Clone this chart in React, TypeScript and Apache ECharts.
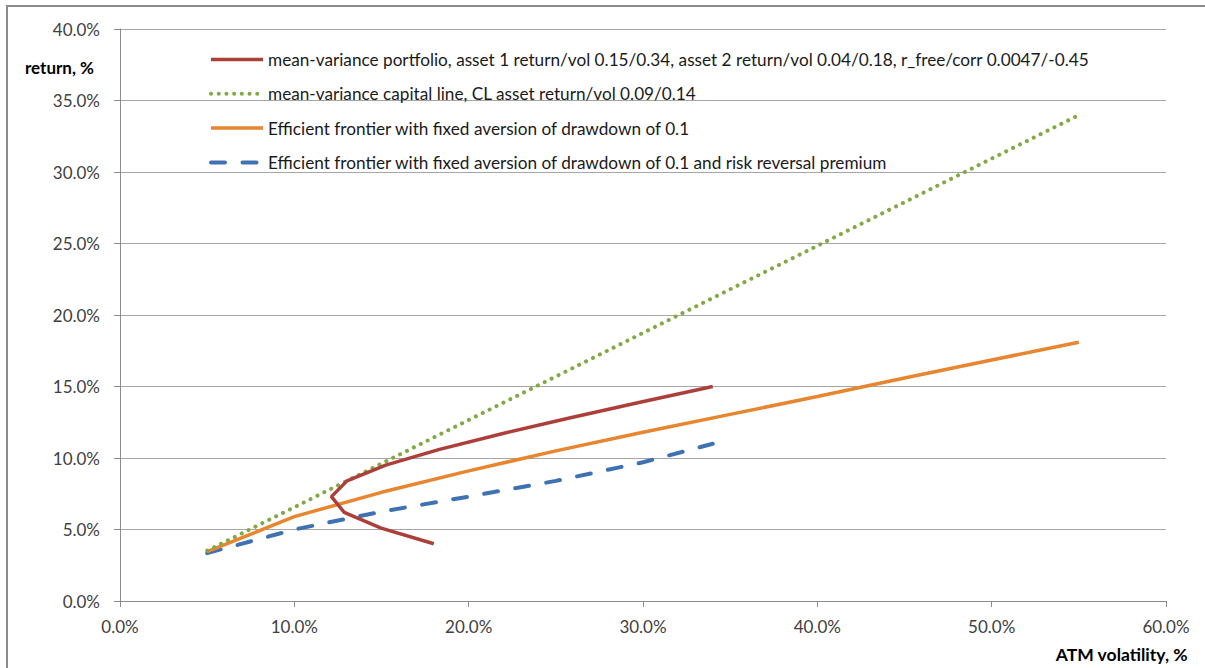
import React, { useEffect, useRef } from "react";
import * as echarts from "echarts";

// Mean-variance portfolio (vol %, return %)
const redVol = [18.0, 14.98, 12.86, 12.13, 13.02, 15.24, 18.33, 21.91, 25.78, 29.83, 34.0];
const redRet = [4.0, 5.1, 6.2, 7.3, 8.4, 9.5, 10.6, 11.7, 12.8, 13.9, 15.0];

// Capital line
const greenVol = [5, 10, 15, 20, 25, 30, 35, 40, 45, 50, 55];
const greenRet = [3.52, 6.56, 9.61, 12.66, 15.7, 18.75, 21.8, 24.84, 27.89, 30.94, 33.98];

// Efficient frontier with fixed aversion of drawdown
const orangeVol = [5, 10, 15, 20, 25, 30, 35, 40, 45, 50, 55];
const orangeRet = [3.45, 5.9, 7.6, 9.1, 10.5, 11.8, 13.05, 14.3, 15.6, 16.85, 18.1];

// ... and risk reversal premium
const blueVol = [5, 10, 15, 20, 25, 30, 34];
const blueRet = [3.35, 5.0, 6.25, 7.3, 8.4, 9.7, 11.0];

const yTicks = [0, 5, 10, 15, 20, 25, 30, 35, 40];
const xTicks = [0, 10, 20, 30, 40, 50, 60];

const names = [
  "mean-variance portfolio, asset 1 return/vol 0.15/0.34, asset 2 return/vol 0.04/0.18, r_free/corr 0.0047/-0.45",
  "mean-variance capital line, CL asset return/vol 0.09/0.14",
  "Efficient frontier with fixed aversion of drawdown of 0.1",
  "Efficient frontier with fixed aversion of drawdown of 0.1 and risk reversal premium",
];

const FONT = "Lato, 'Open Sans', sans-serif";

const pairs = (xs: number[], ys: number[]) => xs.map((x, i) => [x, ys[i]]);

export default function App() {
  const ref = useRef<HTMLDivElement>(null);
  useEffect(() => {
    document.body.style.margin = "0";
    const chart = echarts.init(ref.current!, null, { renderer: "svg" });
    chart.setOption({
      animation: false,
      backgroundColor: "#ffffff",
      textStyle: { fontFamily: FONT },
      grid: { left: 120, right: 39, top: 29, bottom: 67 },
      legend: {
        orient: "vertical",
        left: 204,
        top: 46,
        itemWidth: 52,
        itemHeight: 16,
        itemGap: 17.3,
        itemStyle: { opacity: 0 },
        textStyle: { fontFamily: FONT, fontSize: 17.2, color: "#1a1a1a", lineHeight: 16 },
        data: [
          { name: names[0], lineStyle: { width: 3.5 } },
          { name: names[1], lineStyle: { width: 4 } },
          { name: names[2], lineStyle: { width: 3.5 } },
          { name: names[3], lineStyle: { width: 4 } },
        ],
      },
      xAxis: {
        type: "value",
        min: 0,
        max: 60,
        interval: 10,
        axisLine: { show: true, lineStyle: { color: "#8c8c8c", width: 1 } },
        axisTick: { show: true, length: 6, lineStyle: { color: "#8c8c8c" } },
        splitLine: { show: false },
        axisLabel: {
          margin: 17,
          fontFamily: FONT,
          fontSize: 17,
          color: "#404040",
          formatter: (v: number) => (xTicks.includes(v) ? v.toFixed(1) + "%" : ""),
        },
      },
      yAxis: {
        type: "value",
        min: 0,
        max: 40,
        interval: 5,
        axisLine: { show: true, lineStyle: { color: "#8c8c8c", width: 1 } },
        axisTick: { show: true, length: 6, lineStyle: { color: "#8c8c8c" } },
        splitLine: { show: true, lineStyle: { color: "#a6a6a6", width: 1 } },
        axisLabel: {
          margin: 20,
          fontFamily: FONT,
          fontSize: 17,
          color: "#404040",
          formatter: (v: number) => (yTicks.includes(v) ? v.toFixed(1) + "%" : ""),
        },
      },
      series: [
        {
          name: names[0],
          type: "line",
          symbol: "none",
          data: pairs(redVol, redRet),
          lineStyle: { color: "#ad3f3b", width: 3.5 },
          itemStyle: { color: "#ad3f3b" },
          z: 4,
        },
        {
          name: names[1],
          type: "line",
          symbol: "none",
          data: pairs(greenVol, greenRet),
          lineStyle: { color: "#84a846", width: 4, type: [0.1, 7.6], cap: "round" },
          itemStyle: { color: "#84a846" },
          z: 3,
        },
        {
          name: names[2],
          type: "line",
          symbol: "none",
          data: pairs(orangeVol, orangeRet),
          lineStyle: { color: "#e8852f", width: 3.5 },
          itemStyle: { color: "#e8852f" },
          z: 2,
        },
        {
          name: names[3],
          type: "line",
          symbol: "none",
          data: pairs(blueVol, blueRet),
          lineStyle: { color: "#3f72b2", width: 4, type: [14, 17.5], cap: "round" },
          itemStyle: { color: "#3f72b2" },
          z: 1,
        },
      ],
      graphic: [
        {
          type: "rect",
          shape: { x: 7, y: 6, width: 1400, height: 900 },
          style: { fill: "none", stroke: "#8a8a8a", lineWidth: 2 },
          silent: true,
        },
        {
          type: "text",
          left: 25,
          top: 59,
          style: { text: "return, %", font: `bold 17px ${FONT}`, fill: "#000000" },
        },
        {
          type: "text",
          right: 17,
          top: 645,
          style: { text: "ATM volatility, %", font: `bold 17.5px ${FONT}`, fill: "#000000" },
        },
      ],
    });
    return () => chart.dispose();
  }, []);
  return <div ref={ref} style={{ width: 1205, height: 668 }} />;
}
